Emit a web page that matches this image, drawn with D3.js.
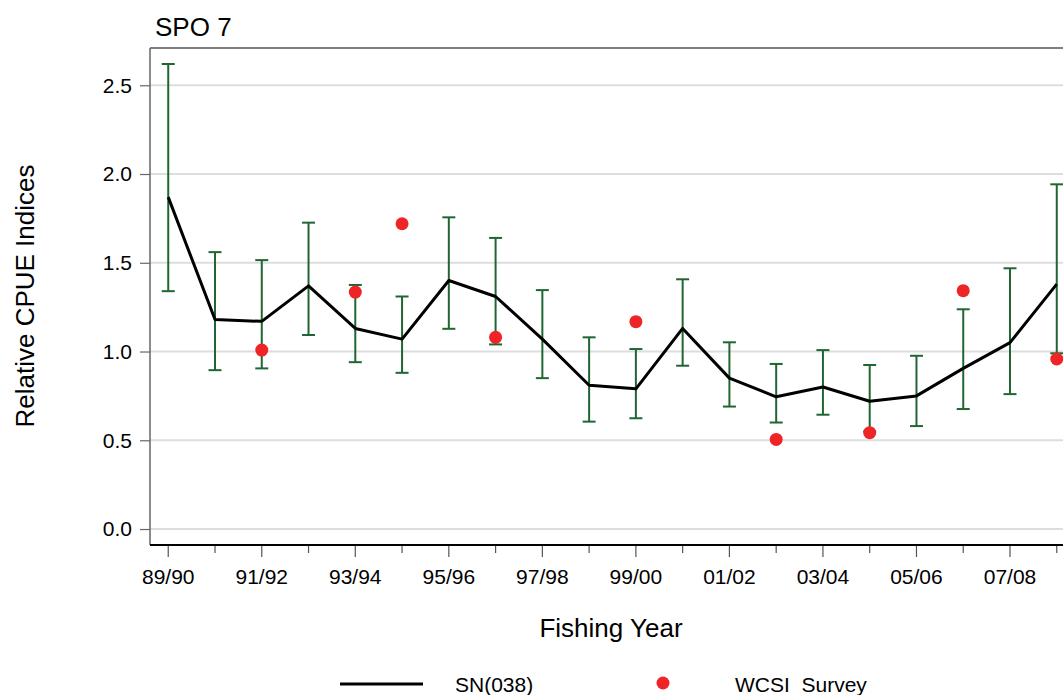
<!DOCTYPE html>
<html>
<head>
<meta charset="utf-8">
<script src="https://cdn.jsdelivr.net/npm/d3@7"></script>
<style>
  html, body { margin: 0; padding: 0; background: #fff; }
  svg { display: block; font-family: Arial, "Liberation Sans", sans-serif; }
</style>
</head>
<body>
<svg id="chart" width="1063" height="695"></svg>
<script>
// Fishing years (x categories)
const years = ["89/90","90/91","91/92","92/93","93/94","94/95","95/96","96/97","97/98","98/99",
               "99/00","00/01","01/02","02/03","03/04","04/05","05/06","06/07","07/08","08/09"];
// SN(038) standardised CPUE index and its confidence bounds
const snIndex = [1.87, 1.18, 1.17, 1.37, 1.13, 1.07, 1.40, 1.31, 1.07, 0.81,
                 0.79, 1.13, 0.85, 0.745, 0.80, 0.72, 0.75, 0.905, 1.05, 1.38];
const snLower = [1.34, 0.895, 0.905, 1.093, 0.94, 0.88, 1.128, 1.04, 0.85, 0.605,
                 0.624, 0.92, 0.69, 0.60, 0.644, 0.55, 0.58, 0.676, 0.76, 0.99];
const snUpper = [2.62, 1.56, 1.515, 1.726, 1.375, 1.31, 1.756, 1.64, 1.346, 1.08,
                 1.014, 1.407, 1.052, 0.93, 1.008, 0.924, 0.976, 1.238, 1.469, 1.942];
// WCSI trawl survey relative biomass
const surveyYears = ["91/92","93/94","94/95","96/97","99/00","02/03","04/05","06/07","08/09"];
const surveyIndex = [1.008, 1.335, 1.72, 1.08, 1.168, 0.505, 0.543, 1.343, 0.958];
// Axis ticks
const yTicks = [0.0, 0.5, 1.0, 1.5, 2.0, 2.5];
const xLabelYears = ["89/90","91/92","93/94","95/96","97/98","99/00","01/02","03/04","05/06","07/08"];

const svg = d3.select("#chart");
const plot = { left: 150, top: 48, right: 1075, bottom: 545 };

const x = d3.scaleLinear().domain([-0.39, 19.39]).range([plot.left, plot.right]);
const y = d3.scaleLinear().domain([-0.09, 2.71]).range([plot.bottom, plot.top]);
const xi = yr => x(years.indexOf(yr));

const green = "#1f6633";
const red = "#ee2427";
const tickFont = 21;
const titleFont = 26;

// horizontal gridlines
svg.append("g").selectAll("line").data(yTicks).join("line")
  .attr("x1", plot.left).attr("x2", plot.right)
  .attr("y1", d => y(d)).attr("y2", d => y(d))
  .attr("stroke", "#dddddd").attr("stroke-width", 2);

// frame: top border
svg.append("line")
  .attr("x1", plot.left).attr("x2", plot.right)
  .attr("y1", plot.top).attr("y2", plot.top)
  .attr("stroke", "#000").attr("stroke-width", 1.2);

// y axis
const yAxis = d3.axisLeft(y).tickValues(yTicks).tickFormat(d3.format(".1f")).tickSize(10).tickPadding(8);
const gy = svg.append("g").attr("transform", `translate(${plot.left},0)`).call(yAxis);
gy.select(".domain").attr("d", `M0,${plot.top}V${plot.bottom}`).attr("stroke", "#666").attr("stroke-width", 1.5);
gy.selectAll(".tick line").attr("stroke", "#666").attr("stroke-width", 1.2);
gy.selectAll(".tick text").attr("font-size", tickFont).attr("fill", "#000")
  .attr("font-family", "Arial, 'Liberation Sans', sans-serif");

// x axis: every year gets a tick, labelled years get a longer one
const gx = svg.append("g").attr("transform", `translate(0,${plot.bottom})`);
gx.append("line").attr("x1", plot.left).attr("x2", plot.right).attr("y1", 0).attr("y2", 0)
  .attr("stroke", "#000").attr("stroke-width", 2.2);
gx.selectAll("line.tk").data(years).join("line").attr("class", "tk")
  .attr("x1", d => xi(d)).attr("x2", d => xi(d))
  .attr("y1", 1).attr("y2", d => xLabelYears.includes(d) ? 12 : 8)
  .attr("stroke", "#555").attr("stroke-width", 1.2);
gx.selectAll("text").data(xLabelYears).join("text")
  .attr("x", d => xi(d)).attr("y", 39)
  .attr("text-anchor", "middle").attr("font-size", tickFont).text(d => d);

// error bars
const eb = svg.append("g").attr("stroke", green).attr("stroke-width", 2).attr("fill", "none");
const cap = 6.5;
years.forEach((yr, i) => {
  const cx = x(i);
  eb.append("line").attr("x1", cx).attr("x2", cx).attr("y1", y(snLower[i])).attr("y2", y(snUpper[i]));
  eb.append("line").attr("x1", cx - cap).attr("x2", cx + cap).attr("y1", y(snUpper[i])).attr("y2", y(snUpper[i]));
  eb.append("line").attr("x1", cx - cap).attr("x2", cx + cap).attr("y1", y(snLower[i])).attr("y2", y(snLower[i]));
});

// SN(038) index line
const line = d3.line().x((d, i) => x(i)).y(d => y(d));
svg.append("path").datum(snIndex).attr("d", line)
  .attr("fill", "none").attr("stroke", "#000").attr("stroke-width", 3).attr("stroke-linejoin", "round");

// survey points
svg.append("g").selectAll("circle").data(surveyYears).join("circle")
  .attr("cx", d => xi(d)).attr("cy", (d, i) => y(surveyIndex[i])).attr("r", 6.5)
  .attr("fill", red);

// titles
svg.append("text").attr("x", 155).attr("y", 36).attr("font-size", titleFont).text("SPO 7");
svg.append("text").attr("transform", "translate(34,296) rotate(-90)")
  .attr("text-anchor", "middle").attr("font-size", titleFont).text("Relative CPUE Indices");
svg.append("text").attr("x", 611).attr("y", 637).attr("text-anchor", "middle")
  .attr("font-size", titleFont).text("Fishing Year");

// legend
const lg = svg.append("g");
lg.append("line").attr("x1", 340).attr("x2", 423).attr("y1", 684).attr("y2", 684)
  .attr("stroke", "#000").attr("stroke-width", 3);
lg.append("text").attr("x", 455).attr("y", 692).attr("font-size", tickFont).text("SN(038)");
lg.append("circle").attr("cx", 663).attr("cy", 683).attr("r", 6.5).attr("fill", red);
lg.append("text").attr("x", 735).attr("y", 692).attr("font-size", tickFont).text("WCSI_Survey");
</script>
</body>
</html>
